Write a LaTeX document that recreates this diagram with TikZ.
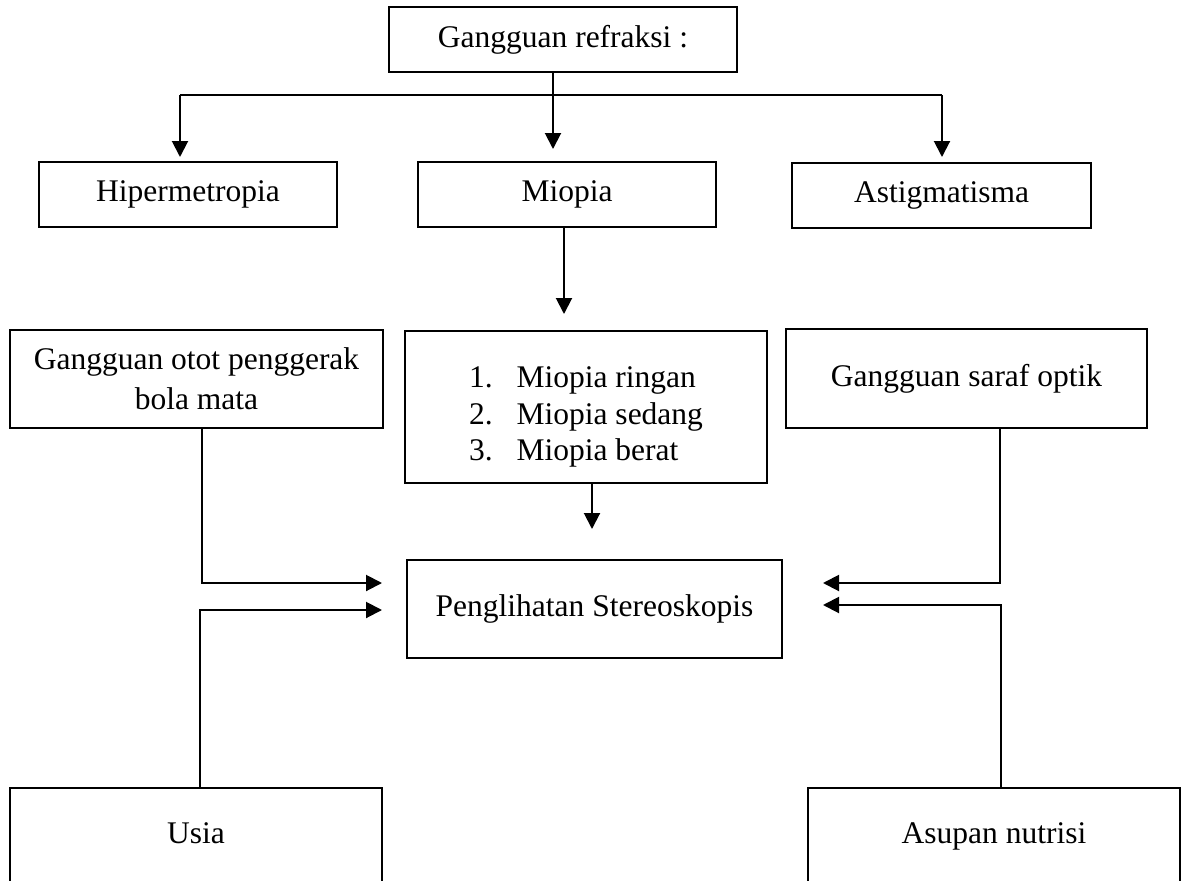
\documentclass[tikz,border=0pt]{standalone}
\usepackage{fontspec}
\setmainfont{Liberation Serif}
\usetikzlibrary{arrows.meta}
\begin{document}
\begin{tikzpicture}[x=1pt,y=-1pt,
  box/.style={draw, line width=2pt, inner sep=0pt, align=center, font=\fontsize{31.5}{40}\selectfont},
  txt/.style={inner sep=0pt, font=\fontsize{31.5}{40}\selectfont},
  conn/.style={line width=2pt},
  arr/.style={line width=2pt, -{Triangle[length=16pt,width=16pt]}}]
\useasboundingbox (0,0) rectangle (1189,881);
\clip (0,0) rectangle (1189,881);
% boxes
\node[box, minimum width=348pt, minimum height=65pt] (top) at (563,39.5) {Gangguan refraksi :};
\node[box, minimum width=298pt, minimum height=65pt] (hiper) at (188,194.5) {Hipermetropia};
\node[box, minimum width=298pt, minimum height=65pt] (miopia) at (567,194.5) {Miopia};
\node[box, minimum width=299pt, minimum height=65pt] (astig) at (941.5,195.5) {Astigmatisma};
\node[box, minimum width=362pt, minimum height=152pt] (list) at (586,407)
  {\raisebox{-10pt}[\height][\depth]{\fontsize{31.5}{36.5}\selectfont\begin{tabular}{@{}l@{\hspace{24pt}}l@{}}1. & Miopia ringan\\ 2. & Miopia sedang\\ 3. & Miopia berat\end{tabular}}};
\node[box, minimum width=373pt, minimum height=98pt] (otot) at (196.5,379) {Gangguan otot penggerak\\bola mata};
\node[box, minimum width=361pt, minimum height=99pt] (saraf) at (966.5,378.5) {Gangguan saraf optik};
\node[box, minimum width=375pt, minimum height=98pt] (peng) at (594.5,609) {Penglihatan Stereoskopis};
\node[box, anchor=north, minimum width=372pt, minimum height=200pt] (usiabox) at (196,787) {};
\node[txt, anchor=base] (usia) at (196,843) {Usia};
\node[box, anchor=north, minimum width=372pt, minimum height=200pt] (asupanbox) at (994,787) {};
\node[txt, anchor=base] (asupan) at (994,843) {Asupan nutrisi};
% connector coordinates
\coordinate (bus) at (553,95);
\coordinate (hl) at (180,95);
\coordinate (hr) at (942,95);
\coordinate (xm) at (564,0);
\coordinate (xl) at (592,0);
\coordinate (xa) at (202,583);
\coordinate (xb) at (200,610);
\coordinate (xc) at (1000,583);
\coordinate (xd) at (1001,605);
% top tree
\draw[conn] (top.south -| bus) -- (bus);
\draw[conn] (hl) -- (hr);
\draw[arr, shorten >=12pt] (bus) -- (bus |- miopia.north);
\draw[arr, shorten >=4pt] (hl) -- (hl |- hiper.north);
\draw[arr, shorten >=5pt] (hr) -- (hr |- astig.north);
% miopia chain
\draw[arr, shorten >=16pt] (miopia.south -| xm) -- (list.north -| xm);
\draw[arr, shorten >=30pt] (list.south -| xl) -- (peng.north -| xl);
% side factors
\draw[arr, shorten >=24pt] (otot.south -| xa) -- (xa) -- (peng.west |- xa);
\draw[arr, shorten >=24pt] (usiabox.north -| xb) -- (xb) -- (peng.west |- xb);
\draw[arr, shorten >=40pt] (saraf.south -| xc) -- (xc) -- (peng.east |- xc);
\draw[arr, shorten >=40pt] (asupanbox.north -| xd) -- (xd) -- (peng.east |- xd);
\end{tikzpicture}
\end{document}
